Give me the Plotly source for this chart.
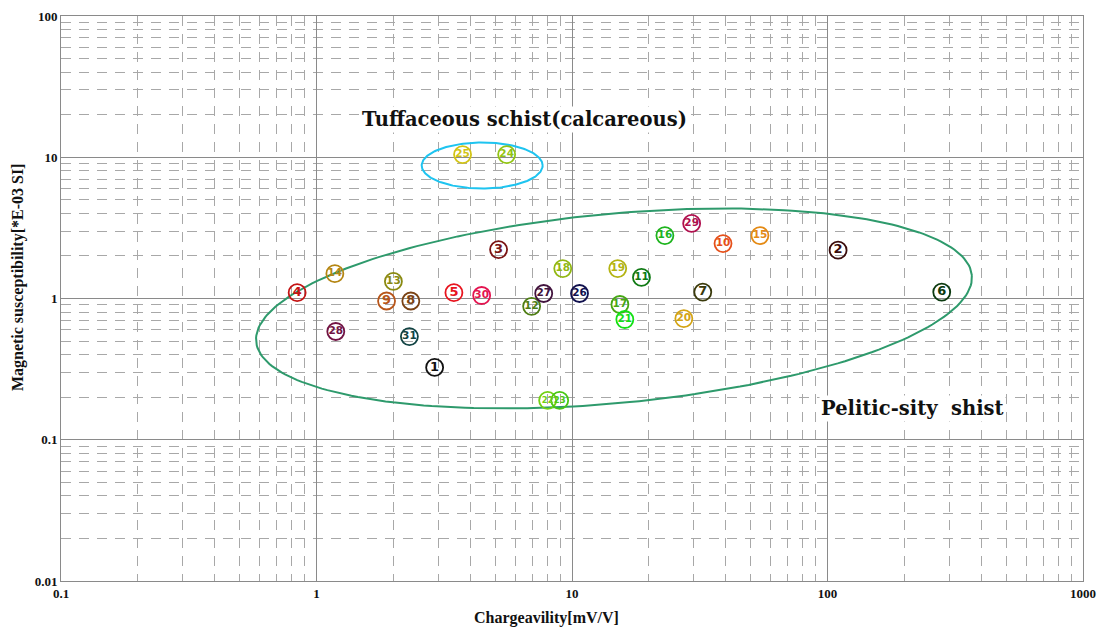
import numpy as np
import plotly.graph_objects as go

# ---------------- data ----------------
sample_ids = list(range(1, 32))
chargeability = [2.9, 110.0, 5.16, 0.84, 3.45, 280.0, 32.5, 2.34, 1.88, 39.0,
                 18.7, 6.95, 2.0, 1.18, 54.4, 23.1, 15.4, 9.2, 15.1, 27.4,
                 16.1, 8.03, 8.95, 5.55, 3.73, 10.7, 7.75, 1.19, 29.4, 4.43, 2.31]
susceptibility = [0.325, 2.2, 2.22, 1.10, 1.10, 1.11, 1.11, 0.96, 0.96, 2.45,
                  1.41, 0.88, 1.32, 1.50, 2.79, 2.79, 0.907, 1.63, 1.63, 0.72,
                  0.71, 0.19, 0.19, 10.45, 10.45, 1.085, 1.085, 0.584, 3.40, 1.05, 0.538]
point_colors = ["#111111", "#3a0c0c", "#7a1414", "#c41414", "#e8141e", "#0c3a10", "#3a3a0c",
                "#7a4214", "#b8561a", "#e6501a", "#107a14", "#4e7e14", "#8a8a12", "#b48614",
                "#e48a14", "#1eb41e", "#46a814", "#92b814", "#b4b414", "#d4a414", "#14e014",
                "#72d014", "#48c814", "#92c414", "#d2c414", "#10104e", "#42143e", "#721444",
                "#b0104e", "#e41450", "#124444"]

x_tickvals = [0.1, 1, 10, 100, 1000]
x_ticktext = ["0.1", "1", "10", "100", "1000"]
y_tickvals = [0.01, 0.1, 1, 10, 100]
y_ticktext = ["0.01", "0.1", "1", "10", "100"]

x_title = "Chargeavility[mV/V]"
y_title = "Magnetic susceptibility[*E-03 SI]"

# group outlines (log-space centres, sizes in pixels)
tuff_center = (4.45, 8.74)
tuff_half_px = (60.5, 23.0)
pelitic_center = (14.6, 0.85)
pelitic_axes_px = (359.4, 94.7)
pelitic_tilt_deg = 5.3

label_tuff = "Tuffaceous schist(calcareous)"
label_tuff_pos = (6.5, 18.5)
label_pelitic = "Pelitic-sity  shist"
label_pelitic_pos = (216, 0.166)

# ---------------- layout constants ----------------
W, H = 1109, 630
ML, MR, MT, MB = 61, 26, 16, 49
px_per_dec_x = (W - ML - MR) / 4.0
px_per_dec_y = (H - MT - MB) / 4.0
crowded_ids = {22, 23}


def ellipse(center, a_px, b_px, tilt_deg, n=240):
    t = np.linspace(0, 2 * np.pi, n)
    phi = np.deg2rad(tilt_deg)
    dx = a_px * np.cos(t) * np.cos(phi) - b_px * np.sin(t) * np.sin(phi)
    dy = a_px * np.cos(t) * np.sin(phi) + b_px * np.sin(t) * np.cos(phi)
    u = np.log10(center[0]) + dx / px_per_dec_x
    v = np.log10(center[1]) + dy / px_per_dec_y
    return 10 ** u, 10 ** v


def label_size(i):
    if i < 10:
        return 13
    if i in crowded_ids:
        return 8.5
    return 10.5


fig = go.Figure()

ex, ey = ellipse(pelitic_center, pelitic_axes_px[0], pelitic_axes_px[1], pelitic_tilt_deg)
fig.add_trace(go.Scatter(x=ex, y=ey, mode="lines", line=dict(color="#2e9a6c", width=2),
                         hoverinfo="skip", showlegend=False))
cx, cy = ellipse(tuff_center, tuff_half_px[0], tuff_half_px[1], 0)
fig.add_trace(go.Scatter(x=cx, y=cy, mode="lines", line=dict(color="#1ec4f0", width=2),
                         hoverinfo="skip", showlegend=False))

fig.add_trace(go.Scatter(
    x=chargeability, y=susceptibility, mode="markers+text",
    text=[str(i) for i in sample_ids],
    textposition="middle center",
    textfont=dict(family="DejaVu Sans", size=[label_size(i) for i in sample_ids],
                  color=point_colors, weight="bold"),
    marker=dict(symbol="circle-open", size=17, color=point_colors,
                line=dict(width=1.8, color=point_colors)),
    showlegend=False,
))

tickfont = dict(family="Liberation Serif", size=13, color="#111", weight="bold")
axis_common = dict(
    type="log", showline=True, mirror=True, linecolor="#8a8a8a", linewidth=1,
    showgrid=True, gridcolor="#8a8a8a", gridwidth=1, ticks="", zeroline=False,
    automargin=False,
    minor=dict(showgrid=True, gridcolor="#a8a8a8", gridwidth=1, griddash="10px,8px",
               dtick="D1", ticks=""),
    tickfont=tickfont,
)

fig.update_xaxes(range=[-1, 3], tickvals=x_tickvals, ticktext=x_ticktext, **axis_common)
fig.update_yaxes(range=[-2, 2], tickvals=y_tickvals, ticktext=y_ticktext, **axis_common)

title_font = dict(family="Liberation Serif", size=16, color="#111", weight="bold")
fig.add_annotation(xref="paper", yref="paper", x=0.4746, y=-0.066, text=x_title,
                   showarrow=False, xanchor="center", yanchor="middle", font=title_font)
fig.add_annotation(xref="paper", yref="paper", x=-0.042, y=0.538, text=y_title, textangle=-90,
                   showarrow=False, xanchor="center", yanchor="middle", font=title_font)

fig.add_annotation(x=np.log10(label_tuff_pos[0]), y=np.log10(label_tuff_pos[1]), xref="x", yref="y",
                   text=label_tuff, showarrow=False, bgcolor="white",
                   font=dict(family="DejaVu Serif", size=19.5, color="#111", weight="bold"))
fig.add_annotation(x=np.log10(label_pelitic_pos[0]), y=np.log10(label_pelitic_pos[1]), xref="x", yref="y",
                   text=label_pelitic, showarrow=False, bgcolor="white",
                   font=dict(family="DejaVu Serif", size=19.5, color="#111", weight="bold"))

fig.update_layout(
    width=W, height=H, margin=dict(l=ML, r=MR, t=MT, b=MB),
    paper_bgcolor="white", plot_bgcolor="white",
)

fig.write_html("out.html")
